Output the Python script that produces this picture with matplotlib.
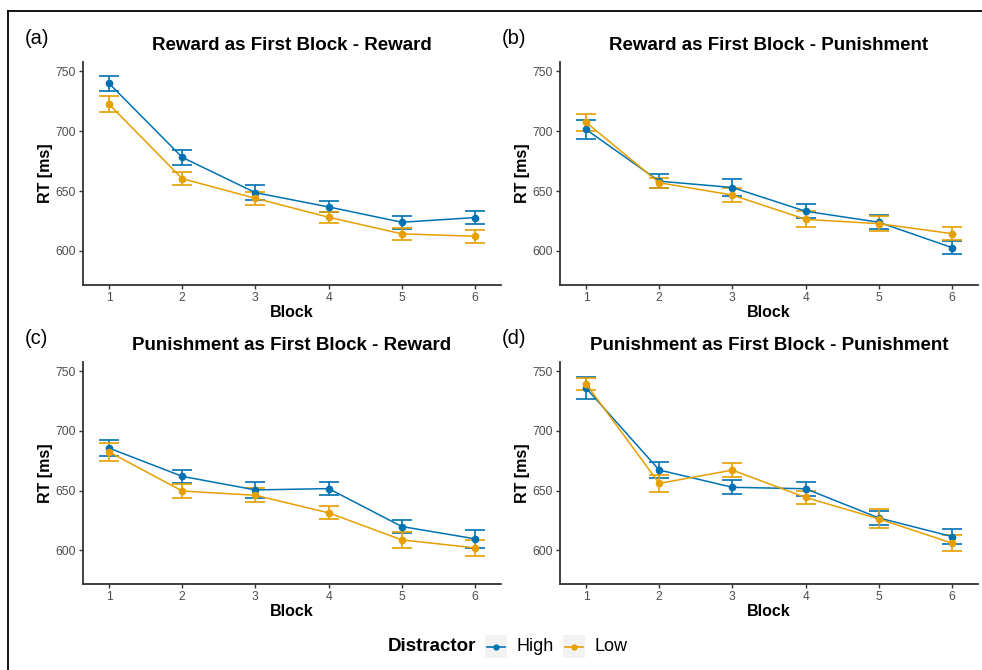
import matplotlib
matplotlib.use("Agg")
import matplotlib.pyplot as plt
from matplotlib.lines import Line2D
from matplotlib.patches import Rectangle

plt.rcParams["font.family"] = ["Liberation Sans", "DejaVu Sans"]

# -------------------------------
# DATA
# -------------------------------
blocks = [1, 2, 3, 4, 5, 6]

titles = [
    "Reward as First Block - Reward",
    "Reward as First Block - Punishment",
    "Punishment as First Block - Reward",
    "Punishment as First Block - Punishment",
]
tags = ["(a)", "(b)", "(c)", "(d)"]

# mean RT, High distractor
high_a = [740.0, 678.2, 648.7, 636.8, 624.0, 627.9]
high_b = [701.5, 658.3, 653.0, 633.2, 624.0, 602.8]
high_c = [685.6, 661.9, 650.5, 651.6, 619.8, 609.5]
high_d = [736.0, 667.2, 652.7, 651.5, 627.0, 611.4]

# standard errors, High distractor
high_a_se = [6.5, 6.1, 6.4, 4.6, 5.6, 5.3]
high_b_se = [7.6, 6.1, 6.8, 5.9, 6.0, 5.6]
high_c_se = [7.0, 5.3, 6.4, 5.4, 5.7, 7.3]
high_d_se = [9.0, 6.6, 5.9, 5.7, 6.0, 6.4]

# mean RT, Low distractor
low_a = [722.6, 660.4, 644.0, 628.2, 614.3, 612.3]
low_b = [707.5, 657.0, 646.7, 626.4, 622.8, 614.5]
low_c = [682.4, 649.6, 646.0, 631.3, 608.6, 601.9]
low_d = [739.5, 656.0, 667.1, 644.2, 626.2, 605.9]

# standard errors, Low distractor
low_a_se = [6.8, 5.5, 5.4, 4.7, 4.8, 5.5]
low_b_se = [7.1, 4.2, 6.0, 6.6, 6.1, 5.5]
low_c_se = [7.4, 5.9, 5.7, 5.4, 6.4, 6.6]
low_d_se = [5.0, 7.1, 6.0, 5.2, 8.0, 7.0]

high = [high_a, high_b, high_c, high_d]
high_se = [high_a_se, high_b_se, high_c_se, high_d_se]
low = [low_a, low_b, low_c, low_d]
low_se = [low_a_se, low_b_se, low_c_se, low_d_se]

col_high = "#0072B2"
col_low = "#E69F00"
axis_col = "#333333"
tick_col = "#4D4D4D"

W, H = 982, 670
fig = plt.figure(figsize=(W / 100, H / 100), dpi=100)


def px_rect(left, top, right, bottom):
    return [left / W, 1 - bottom / H, (right - left) / W, (bottom - top) / H]


boxes = [
    (83, 62, 501, 285),
    (560, 62, 978, 285),
    (83, 362, 501, 584),
    (560, 362, 978, 584),
]

for i in range(4):
    ax = fig.add_axes(px_rect(*boxes[i]))

    for vals, se, col in [(high[i], high_se[i], col_high), (low[i], low_se[i], col_low)]:
        ax.errorbar(blocks, vals, yerr=se, color=col, lw=1.1,
                    elinewidth=1.2, capsize=7, capthick=1.2,
                    marker="o", markersize=4.5, zorder=3)

    ax.set_xlim(0.645, 6.355)
    ax.set_ylim(571.6, 757.8)
    ax.set_xticks(blocks)
    ax.set_yticks([600, 650, 700, 750])

    for side in ["top", "right"]:
        ax.spines[side].set_visible(False)
    for side in ["left", "bottom"]:
        ax.spines[side].set_color(axis_col)
        ax.spines[side].set_linewidth(1.3)
    ax.tick_params(length=3, width=1, color=axis_col, labelcolor=tick_col,
                   labelsize=8.7, pad=2)

    ax.set_xlabel("Block", fontsize=11.5, fontweight="bold", labelpad=1)
    ax.set_ylabel("RT [ms]", fontsize=11.5, fontweight="bold", labelpad=2)
    ax.set_title(titles[i], fontsize=13.5, fontweight="bold", pad=9)

    left, top = boxes[i][0], boxes[i][1]
    fig.text((left - 58) / W, 1 - (top - 23) / H, tags[i], fontsize=14.5,
             ha="left", va="center")

# outer frame (cut off at right and bottom like the reference)
fig.add_artist(Line2D([8 / W, 1], [1 - 10.5 / H, 1 - 10.5 / H],
                      color="black", lw=1.3, transform=fig.transFigure))
fig.add_artist(Line2D([8 / W, 8 / W], [1 - 10.5 / H, 0],
                      color="black", lw=1.3, transform=fig.transFigure))

# legend drawn by hand to mimic the ggplot bottom legend
ly = 1 - 646.5 / H
fig.text(388 / W, ly, "Distractor", fontsize=13.5, fontweight="bold",
         ha="left", va="center")
for x0, col, lab in [(485, col_high, "High"), (563, col_low, "Low")]:
    fig.add_artist(Rectangle((x0 / W, 1 - 657.5 / H), 22 / W, 23 / H,
                             transform=fig.transFigure, facecolor="#F2F2F2",
                             edgecolor="none"))
    fig.add_artist(Line2D([(x0 + 2) / W, (x0 + 20) / W], [ly, ly], color=col,
                          lw=1.2, transform=fig.transFigure))
    fig.add_artist(Line2D([(x0 + 11) / W], [ly], color=col, marker="o",
                          markersize=3.5, transform=fig.transFigure))
    fig.text((x0 + 32) / W, ly, lab, fontsize=13, ha="left", va="center")

fig.savefig("out.png", dpi=100)
